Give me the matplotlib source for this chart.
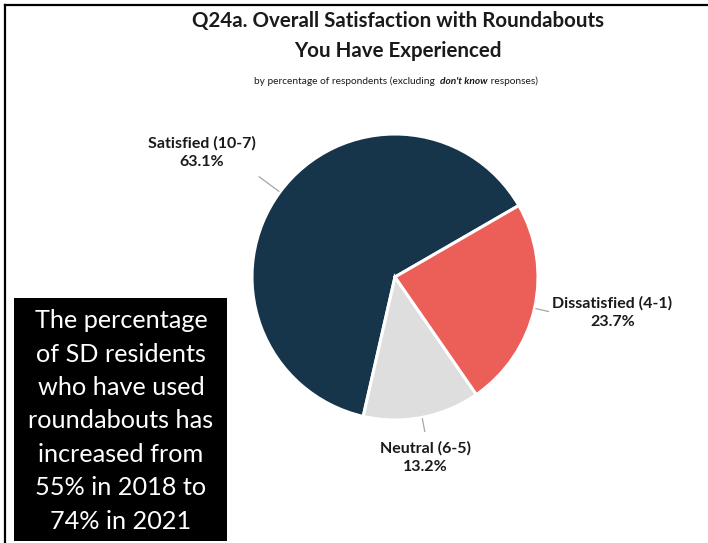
import matplotlib.pyplot as plt
import numpy as np
from matplotlib.patches import Rectangle
from matplotlib.lines import Line2D

plt.rcParams['font.family'] = ['Lato', 'DejaVu Sans']

categories = ['Satisfied (10-7)', 'Neutral (6-5)', 'Dissatisfied (4-1)']
shares = [63.1, 13.2, 23.7]
colors = ['#16354a', '#dedede', '#ec5f58']
title = 'Q24a. Overall Satisfaction with Roundabouts\nYou Have Experienced'
note = ('The percentage\nof SD residents\nwho have used\nroundabouts has\n'
        'increased from\n55% in 2018 to\n74% in 2021')

W, H = 708, 543
fig = plt.figure(figsize=(W / 100, H / 100), dpi=100)

def fx(px):
    return px / W

def fy(py):
    return 1 - py / H

# pie axes: centre (395, 277) px, radius 143 px
cx, cy, r = 395, 277, 143
ax = fig.add_axes([fx(cx - r), fy(cy + r), 2 * r / W, 2 * r / H])

start = 30
wedges, _ = ax.pie(shares, colors=colors, startangle=start, radius=1,
                   wedgeprops=dict(edgecolor='white', linewidth=2.2))
ax.set_xlim(-1, 1)
ax.set_ylim(-1, 1)
ax.set_aspect('equal')
ax.axis('off')

# label positions (axes data units) and leader line lengths
label_pos = [(-1.35, 0.87), (0.21, -1.26), (1.52, -0.25)]
leader_out = [1.18, 1.10, 1.10]

for w, cat, val, pos, lo in zip(wedges, categories, shares, label_pos, leader_out):
    mid = np.deg2rad((w.theta1 + w.theta2) / 2)
    ax.plot([1.01 * np.cos(mid), lo * np.cos(mid)],
            [1.01 * np.sin(mid), lo * np.sin(mid)],
            color='#a6a6a6', lw=0.9, clip_on=False)
    ax.text(pos[0], pos[1], '%s\n%.1f%%' % (cat, val), ha='center', va='center',
            fontsize=11.5, fontweight='bold', color='#1a1a1a', linespacing=1.4,
            clip_on=False)

# title
fig.text(fx(398), fy(36), title, ha='center', va='center', fontsize=14.8,
         fontweight='bold', color='#1a1a1a', linespacing=1.6)

# subtitle with bold italic part
parts = [('by percentage of respondents (excluding  ', 'normal', 'normal'),
         ("don't know", 'bold', 'italic'),
         (' responses)', 'normal', 'normal')]
txts = []
for s, wgt, sty in parts:
    txts.append(fig.text(0, fy(81), s, ha='left', va='center', fontsize=7.3,
                         fontweight=wgt, fontstyle=sty, color='#1a1a1a'))
fig.canvas.draw()
rend = fig.canvas.get_renderer()
widths = [t.get_window_extent(rend).width for t in txts]
x0 = 396 - sum(widths) / 2
for t, wd in zip(txts, widths):
    t.set_x(fx(x0))
    x0 += wd

# black note box
fig.patches.append(Rectangle((fx(14), fy(541)), 213 / W, 243 / H,
                             transform=fig.transFigure, facecolor='black',
                             edgecolor='none'))
fig.text(fx(121), fy(421), note, ha='center', va='center', fontsize=18.2,
         color='white', linespacing=1.55)

# frame lines (top and left)
fig.lines.append(Line2D([fx(5), 1], [fy(5), fy(5)], transform=fig.transFigure,
                        color='black', lw=1.6))
fig.lines.append(Line2D([fx(5), fx(5)], [fy(5), 0], transform=fig.transFigure,
                        color='black', lw=1.6))

fig.savefig('out.png', dpi=100, facecolor='white')
